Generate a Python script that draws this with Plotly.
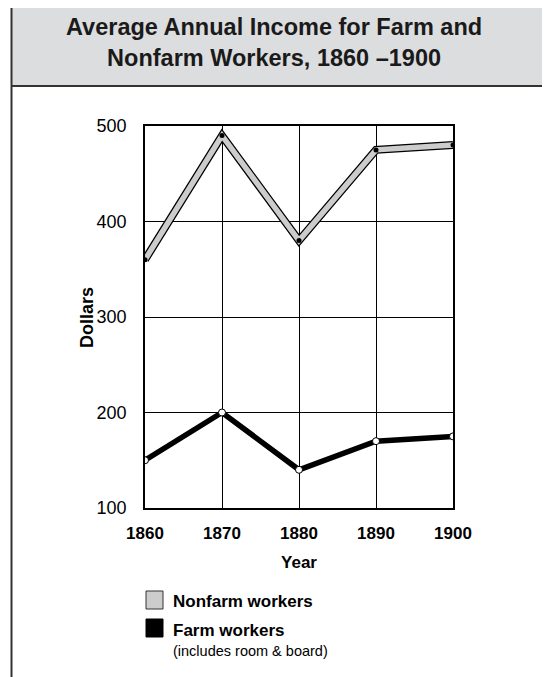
import plotly.graph_objects as go

years = [1860, 1870, 1880, 1890, 1900]
nonfarm = [360, 490, 380, 475, 480]
farm = [150, 200, 140, 170, 175]
y_ticks = [100, 200, 300, 400, 500]

OFF = 8  # page body margin
W, H = 550 - OFF, 677 - OFF
# plot area in window pixels
L, R, T, B = 145, 453, 126, 508
FONT = "Liberation Sans, Arial, sans-serif"

def px(x):
    return (x - L) / (R - L)

def py(y):
    return (B - y) / (B - T)

fig = go.Figure()
# Nonfarm: outlined gray band
fig.add_trace(go.Scatter(x=years, y=nonfarm, mode="lines",
                         line=dict(color="black", width=8), showlegend=False, hoverinfo="skip"))
fig.add_trace(go.Scatter(x=years, y=nonfarm, mode="lines+markers",
                         line=dict(color="#cccccc", width=5.5),
                         marker=dict(color="black", size=5), showlegend=False))
# Farm: thick black line with white markers
fig.add_trace(go.Scatter(x=years, y=farm, mode="lines+markers",
                         line=dict(color="black", width=5.5),
                         marker=dict(color="white", size=7, line=dict(color="black", width=1)),
                         showlegend=False))

shapes = [
    # title box
    dict(type="rect", xref="paper", yref="paper", x0=px(11), x1=px(570), y0=py(86), y1=py(6),
         fillcolor="#dcdddf", line=dict(width=0), layer="below"),
    dict(type="line", xref="paper", yref="paper", x0=px(11), x1=px(570), y0=py(6), y1=py(6),
         line=dict(color="#666666", width=2)),
    dict(type="line", xref="paper", yref="paper", x0=px(11), x1=px(570), y0=py(86), y1=py(86),
         line=dict(color="#333333", width=2)),
    # left frame line
    dict(type="line", xref="paper", yref="paper", x0=px(11.5), x1=px(11.5), y0=py(5), y1=py(690),
         line=dict(color="#333333", width=2)),
    # legend swatches
    dict(type="rect", xref="paper", yref="paper", x0=px(146), x1=px(163), y0=py(609), y1=py(591),
         fillcolor="#cccccc", line=dict(color="#333333", width=1)),
    dict(type="rect", xref="paper", yref="paper", x0=px(146), x1=px(163), y0=py(637), y1=py(619),
         fillcolor="black", line=dict(color="black", width=1)),
]

annotations = [
    dict(text="<b>Average Annual Income for Farm and<br>Nonfarm Workers, 1860 –1900</b>",
         xref="paper", yref="paper", x=px(274), y=py(43), xanchor="center", yanchor="middle",
         showarrow=False, font=dict(family=FONT, size=23.5, color="#1a1a1a"), align="center"),
    dict(text="<b>Dollars</b>", xref="paper", yref="paper", x=px(87), y=py(318), textangle=-90,
         xanchor="center", yanchor="middle", showarrow=False,
         font=dict(family=FONT, size=18, color="black")),
    dict(text="<b>Nonfarm workers</b>", xref="paper", yref="paper", x=px(171), y=py(601),
         xanchor="left", yanchor="middle", showarrow=False, font=dict(family=FONT, size=17, color="black")),
    dict(text="<b>Farm workers</b>", xref="paper", yref="paper", x=px(171), y=py(630),
         xanchor="left", yanchor="middle", showarrow=False, font=dict(family=FONT, size=17, color="black")),
    dict(text="(includes room &amp; board)", xref="paper", yref="paper", x=px(171), y=py(651),
         xanchor="left", yanchor="middle", showarrow=False, font=dict(family=FONT, size=14.5, color="black")),
]

fig.update_layout(
    width=W, height=H,
    margin=dict(l=L - OFF, r=W - (R - OFF), t=T - OFF, b=H - (B - OFF), pad=0),
    paper_bgcolor="white", plot_bgcolor="white",
    shapes=shapes, annotations=annotations,
    font=dict(family=FONT, color="black"),
    xaxis=dict(range=[1860, 1900], tickvals=years, ticktext=[f"<b>{y}</b>" for y in years],
               showgrid=True, gridcolor="black", gridwidth=1,
               showline=True, linecolor="black", linewidth=1.5, mirror=True,
               zeroline=False, ticks="", tickfont=dict(family=FONT, size=17),
               ticklabelstandoff=9,
               title=dict(text="<b>Year</b>", font=dict(family=FONT, size=17), standoff=14)),
    yaxis=dict(range=[100, 500], tickvals=y_ticks,
               showgrid=True, gridcolor="black", gridwidth=1,
               showline=True, linecolor="black", linewidth=1.5, mirror=True,
               zeroline=False, ticks="", tickfont=dict(family=FONT, size=18),
               ticklabelstandoff=13),
)

fig.write_html("out.html")
